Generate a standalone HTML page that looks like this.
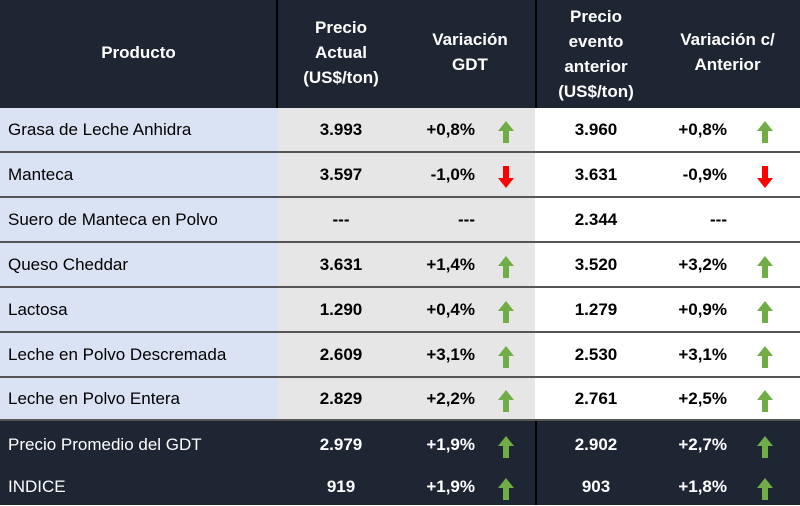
<!DOCTYPE html>
<html><head><meta charset="utf-8"><style>
body{margin:0;width:800px;height:505px;overflow:hidden;background:#fff;font-family:"Liberation Sans",sans-serif;}
#t{position:relative;width:800px;height:505px;}
.a{position:absolute;box-sizing:border-box;}
.h{color:#fff;font-weight:bold;font-size:17px;line-height:25px;text-align:center;display:flex;align-items:center;justify-content:center;}
.c{font-size:17px;display:flex;align-items:center;}
</style></head><body>
<div id="t">
<div class="a" style="left:0;top:0;width:800px;height:108px;background:#1e2533"></div>
<div class="a" style="left:276px;top:0;width:2px;height:108px;background:#000"></div>
<div class="a" style="left:535px;top:0;width:2px;height:108px;background:#000"></div>
<div class="a h" style="left:0;top:0;width:277px;height:104px">Producto</div>
<div class="a h" style="left:278px;top:0;width:126px;height:104px">Precio<br>Actual<br>(US$/ton)</div>
<div class="a h" style="left:405px;top:0;width:130px;height:104px">Variación<br>GDT</div>
<div class="a h" style="left:537px;top:0;width:118px;height:108px">Precio<br>evento<br>anterior<br>(US$/ton)</div>
<div class="a h" style="left:655px;top:0;width:145px;height:104px">Variación c/<br>Anterior</div>
</div>
<script>
const products=["Grasa de Leche Anhidra","Manteca","Suero de Manteca en Polvo","Queso Cheddar","Lactosa","Leche en Polvo Descremada","Leche en Polvo Entera","Precio Promedio del GDT","INDICE"];
const priceNow=["3.993","3.597","---","3.631","1.290","2.609","2.829","2.979","919"];
const varNow=["+0,8%","-1,0%","---","+1,4%","+0,4%","+3,1%","+2,2%","+1,9%","+1,9%"];
const pricePrev=["3.960","3.631","2.344","3.520","1.279","2.530","2.761","2.902","903"];
const varPrev=["+0,8%","-0,9%","---","+3,2%","+0,9%","+3,1%","+2,5%","+2,7%","+1,8%"];
const T=document.getElementById('t');
const tops=[108,153,198,243,288,333,378,421,465];
function box(x,y,w,h,bg,name){const d=document.createElement('div');d.className='a';d.style.cssText=`left:${x}px;top:${y}px;width:${w}px;height:${h}px;background:${bg}`;


T.appendChild(d);return d;}
function txt(x,y,w,h,s,align,color,bold,name){const d=box(x,y,w,h,'transparent',name);d.classList.add('c');d.textContent=s;d.style.justifyContent=align;d.style.color=color;if(bold)d.style.fontWeight='bold';return d;}
function arrow(cx,cy,up,name){const s=document.createElementNS('http://www.w3.org/2000/svg','svg');s.setAttribute('width','16');s.setAttribute('height','22');s.style.cssText=`position:absolute;left:${cx-8}px;top:${cy-11}px`;


const p=document.createElementNS('http://www.w3.org/2000/svg','path');
p.setAttribute('d',up?'M8 0 L16 10 L11 10 L11 22 L5 22 L5 10 L0 10 Z':'M8 22 L16 12 L11 12 L11 0 L5 0 L5 12 L0 12 Z');
p.setAttribute('fill',up?'#70ad47':'#ff0000');s.appendChild(p);T.appendChild(s);}
products.forEach((p,i)=>{
 const y=tops[i],h=(i<8?tops[i+1]:505)-y;const dark=i>=7;
 if(dark){box(0,y,800,h,'#1e2533','summary-row-bg');box(535,y,2,h,'#000','summary-divider');}
 else{box(0,y,278,h,'#dae3f3','product-cell-bg');box(278,y,257,h,'#e7e6e6','current-cell-bg');box(535,y,265,h,'#fff','previous-cell-bg');
 box(0,y+h-2,800,2,'#555','row-border');}
 const col=dark?'#fff':'#000';const ty=dark?y+3:y;const hh=h-2;
 txt(8,ty,270,hh,p,'flex-start',col,false,'product-name');
 txt(278,ty,126,hh,priceNow[i],'center',col,true,'price-current');
 txt(405,ty,70,hh,varNow[i],'flex-end',col,true,'variation-gdt');
 txt(537,ty,118,hh,pricePrev[i],'center',col,true,'price-previous');
 txt(655,ty,72,hh,varPrev[i],'flex-end',col,true,'variation-previous');
 if(varNow[i]!=='---')arrow(506,ty+hh/2+2,varNow[i][0]==='+','arrow-gdt');
 if(varPrev[i]!=='---')arrow(765,ty+hh/2+2,varPrev[i][0]==='+','arrow-previous');
});
</script>
</body></html>
